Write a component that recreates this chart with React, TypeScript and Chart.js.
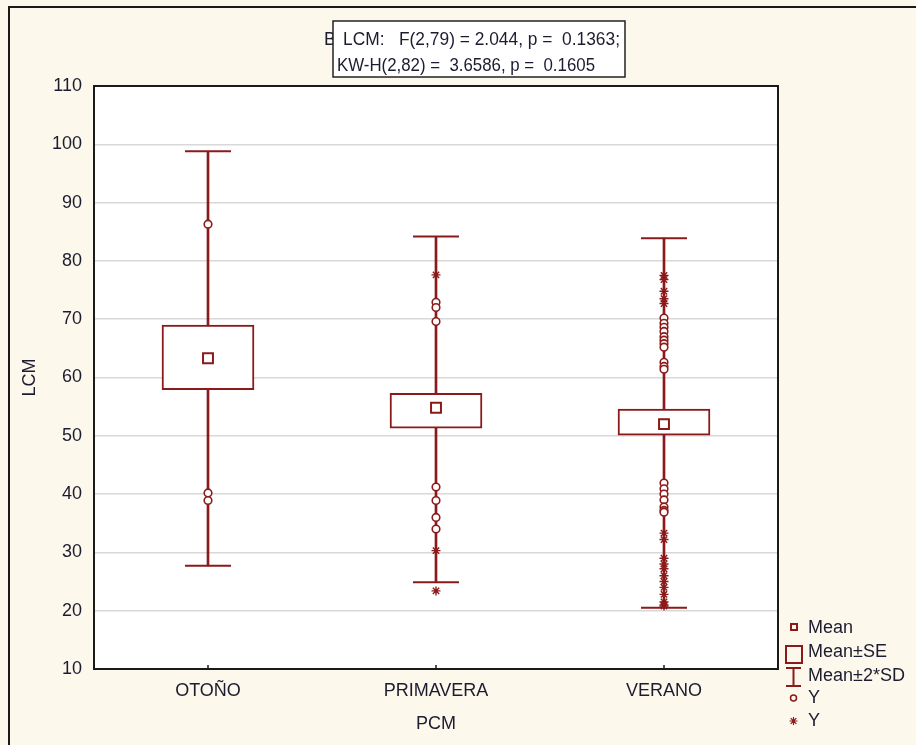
import React, { useEffect, useRef } from 'react';
import { Chart, registerables } from 'chart.js';

Chart.register(...registerables);

const categories = ['OTOÑO', 'PRIMAVERA', 'VERANO'];
const means = [63.3, 54.8, 52.0];
const seLow = [57.9, 51.3, 50.1];
const seHigh = [69.0, 57.3, 54.6];
const sdLow = [27.7, 24.9, 20.5];
const sdHigh = [98.8, 84.2, 83.9];

const outliersOtono = [86.3, 40.2, 38.9];
const outliersPrimavera = [72.9, 72.0, 69.6, 41.2, 38.9, 36.0, 34.0];
const extremesPrimavera = [77.6, 30.3, 23.4];
const outliersVerano = [70.2, 69.3, 68.6, 67.9, 67.0, 66.4, 65.8, 65.2, 62.6, 61.9, 61.4, 41.9, 40.9, 40.0, 39.0, 37.8, 37.2, 36.9];
const extremesVerano = [77.5, 76.8, 74.8, 73.5, 72.7, 33.3, 32.2, 29.0, 28.0, 27.2, 26.0, 25.0, 24.0, 22.8, 21.5, 21.0, 20.8];

const yTicks = [10, 20, 30, 40, 50, 60, 70, 80, 90, 100, 110];

const titleLine1 = 'LCM:   F(2,79) = 2.044, p =  0.1363;';
const titleLine2 = 'KW-H(2,82) =  3.6586, p =  0.1605';
const legendLabels = ['Mean', 'Mean±SE', 'Mean±2*SD', 'Y', 'Y'];

const RED = '#8b1a1a';
const TEXT = '#1c1c30';
const CREAM = '#fdf8ec';
const FONT = '"Liberation Sans", Arial, sans-serif';

const pts = (cat: string, vals: number[]) => vals.map((v) => ({ x: cat, y: v }));

const decorPlugin = {
  id: 'decor',
  beforeDraw(chart: any) {
    const { ctx, chartArea: a, width, height } = chart;
    ctx.save();
    ctx.fillStyle = CREAM;
    ctx.fillRect(0, 0, width, height);
    ctx.strokeStyle = '#1a1a1a';
    ctx.lineWidth = 2;
    ctx.beginPath();
    ctx.moveTo(9, height);
    ctx.lineTo(9, 7);
    ctx.lineTo(width, 7);
    ctx.stroke();
    ctx.fillStyle = '#ffffff';
    ctx.fillRect(a.left, a.top, a.right - a.left, a.bottom - a.top);
    ctx.restore();
  },
  afterDraw(chart: any) {
    const { ctx, chartArea: a } = chart;
    ctx.save();
    // plot border
    ctx.strokeStyle = '#1a1a1a';
    ctx.lineWidth = 2;
    ctx.strokeRect(a.left, a.top, a.right - a.left, a.bottom - a.top);
    // inner tick marks on x axis
    const xs = chart.scales.x;
    ctx.lineWidth = 1.5;
    categories.forEach((c, i) => {
      const px = xs.getPixelForValue(i);
      ctx.beginPath();
      ctx.moveTo(px, a.bottom);
      ctx.lineTo(px, a.bottom - 4);
      ctx.stroke();
    });

    // title box
    ctx.font = `18px ${FONT}`;
    ctx.fillStyle = TEXT;
    ctx.textBaseline = 'alphabetic';
    ctx.textAlign = 'left';
    ctx.fillText('B', 324, 45);
    ctx.fillStyle = '#ffffff';
    ctx.fillRect(333, 21, 292, 56);
    ctx.strokeStyle = '#222222';
    ctx.lineWidth = 1.5;
    ctx.strokeRect(333, 21, 292, 56);
    ctx.fillStyle = TEXT;
    ctx.fillText(titleLine1, 343, 45, 277);
    ctx.fillText(titleLine2, 337, 71, 258);

    // legend
    ctx.strokeStyle = RED;
    ctx.fillStyle = RED;
    ctx.lineWidth = 2;
    ctx.strokeRect(791, 624, 6, 6);
    ctx.strokeRect(786, 646, 16, 17);
    ctx.beginPath();
    ctx.moveTo(786, 668); ctx.lineTo(801, 668);
    ctx.moveTo(793.5, 668); ctx.lineTo(793.5, 686);
    ctx.moveTo(786, 686); ctx.lineTo(801, 686);
    ctx.stroke();
    ctx.lineWidth = 1.5;
    ctx.beginPath();
    ctx.arc(793.5, 698, 3, 0, Math.PI * 2);
    ctx.stroke();
    ctx.lineWidth = 1.2;
    ctx.beginPath();
    const sx = 793.5, sy = 721, r = 4;
    for (let k = 0; k < 4; k++) {
      const ang = (k * Math.PI) / 4;
      ctx.moveTo(sx - Math.cos(ang) * r, sy - Math.sin(ang) * r);
      ctx.lineTo(sx + Math.cos(ang) * r, sy + Math.sin(ang) * r);
    }
    ctx.stroke();
    ctx.fillStyle = TEXT;
    ctx.font = `18px ${FONT}`;
    ctx.textBaseline = 'middle';
    const ly = [628, 652, 676, 698, 721];
    legendLabels.forEach((t, i) => ctx.fillText(t, 808, ly[i]));
    ctx.restore();
  },
};

export default function App() {
  const ref = useRef<HTMLCanvasElement>(null);
  useEffect(() => {
    if (!ref.current) return;
    const pointBase = {
      type: 'line' as const,
      showLine: false,
      borderColor: RED,
      backgroundColor: '#ffffff',
    };
    const chart = new Chart(ref.current, {
      type: 'bar',
      data: {
        labels: categories,
        datasets: [
          {
            ...pointBase,
            label: 'Mean',
            data: categories.map((c, i) => ({ x: c, y: means[i] })),
            pointStyle: 'rect',
            pointRadius: 7,
            pointBorderWidth: 2,
            order: 1,
          } as any,
          {
            ...pointBase,
            label: 'Y',
            data: [...pts(categories[0], outliersOtono), ...pts(categories[1], outliersPrimavera), ...pts(categories[2], outliersVerano)],
            pointStyle: 'circle',
            pointRadius: 3.8,
            pointBorderWidth: 1.6,
            order: 2,
          } as any,
          {
            ...pointBase,
            label: 'Y*',
            data: [...pts(categories[1], extremesPrimavera), ...pts(categories[2], extremesVerano)],
            pointStyle: 'star',
            pointRadius: 4.5,
            pointBorderWidth: 1.4,
            order: 2,
          } as any,
          {
            ...pointBase,
            label: 'caps',
            data: [
              ...categories.map((c, i) => ({ x: c, y: sdLow[i] })),
              ...categories.map((c, i) => ({ x: c, y: sdHigh[i] })),
            ],
            pointStyle: 'line',
            pointRadius: 23,
            pointBorderWidth: 2,
            order: 3,
          } as any,
          {
            type: 'bar',
            label: 'Mean±SE',
            data: categories.map((c, i) => [seLow[i], seHigh[i]]),
            backgroundColor: '#ffffff',
            borderColor: RED,
            borderWidth: 2,
            borderSkipped: false,
            barThickness: 92,
            grouped: false,
            order: 4,
          } as any,
          {
            type: 'bar',
            label: 'Mean±2*SD',
            data: categories.map((c, i) => [sdLow[i], sdHigh[i]]),
            backgroundColor: RED,
            borderWidth: 0,
            barThickness: 2,
            grouped: false,
            order: 5,
          } as any,
        ],
      },
      options: {
        responsive: false,
        animation: false,
        devicePixelRatio: 1,
        layout: { padding: { top: 86, right: 138, left: 0, bottom: 0 } },
        plugins: { legend: { display: false }, tooltip: { enabled: false } },
        scales: {
          x: {
            type: 'category',
            offset: true,
            grid: { display: false, drawTicks: false },
            border: { display: false },
            ticks: { color: TEXT, font: { family: FONT, size: 18 }, padding: 11 },
            title: { display: true, text: 'PCM', color: TEXT, font: { family: FONT, size: 18 }, padding: { top: 0, bottom: 10 } },
            afterFit: (s: any) => { s.height = 76; },
          },
          y: {
            min: 10,
            max: 110,
            afterBuildTicks: (s: any) => { s.ticks = yTicks.map((v) => ({ value: v })); },
            grid: { color: '#d8d8d8', lineWidth: 1.5, drawTicks: false },
            border: { display: false },
            ticks: { color: TEXT, font: { family: FONT, size: 18 }, padding: 12 },
            title: { display: true, text: 'LCM', color: TEXT, font: { family: FONT, size: 18 }, padding: { top: 19, bottom: 0 } },
            afterFit: (s: any) => { s.width = 94; },
          },
        },
      } as any,
      plugins: [decorPlugin],
    });
    return () => chart.destroy();
  }, []);
  return (
    <div style={{ position: 'absolute', left: 0, top: 0, width: 916, height: 745 }}>
      <canvas ref={ref} width={916} height={745} />
    </div>
  );
}
